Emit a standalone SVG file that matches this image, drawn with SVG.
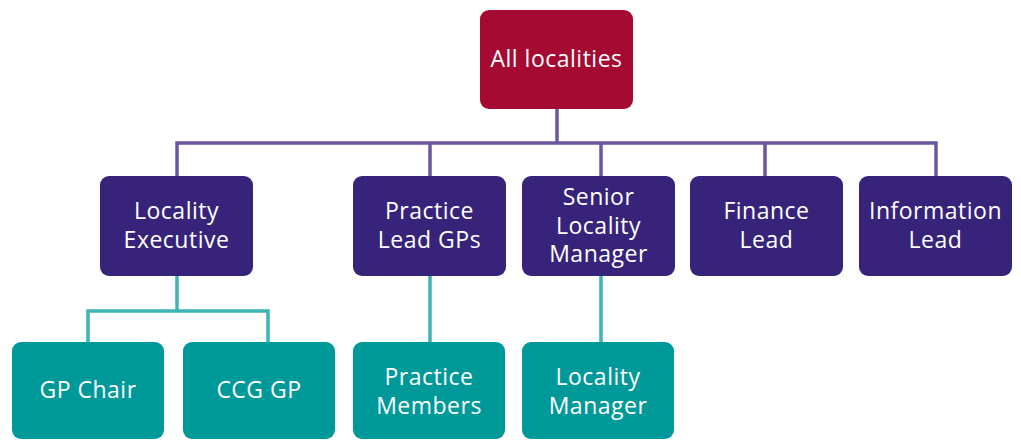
<svg xmlns="http://www.w3.org/2000/svg" width="1021" height="440" viewBox="0 0 1021 440">
<style>
.top{fill:#A50B32}
.mid{fill:#37247A}
.low{fill:#009999}
.t{font-family:"Open Sans","Noto Sans",sans-serif;font-size:23px;letter-spacing:0.5px;fill:#ffffff;text-anchor:middle}
.cp{stroke:#6A57A0;stroke-width:3.5;fill:none}
.ct{stroke:#3DB5B5;stroke-width:3.5;fill:none}
</style>
<rect width="1021" height="440" fill="#ffffff"/>
<g id="connectors">
<path class="cp" d="M557 109V143M177 176V143H936V176M430 143V176M601 143V176M765 143V176"/>
<path class="ct" d="M177 276V311M88 342V311H268V342M430 276V342M601 276V342"/>
</g>
<g id="n-all"><rect class="top" x="480" y="10" width="153" height="99" rx="9"/><text class="t" x="556.5" y="67">All localities</text></g>
<g id="n-locexec"><rect class="mid" x="100" y="176" width="153" height="100" rx="9"/><text class="t" x="176.5" y="219">Locality</text><text class="t" x="176.5" y="248">Executive</text></g>
<g id="n-practicelead"><rect class="mid" x="353" y="176" width="153" height="100" rx="9"/><text class="t" x="429.5" y="219">Practice</text><text class="t" x="429.5" y="248">Lead GPs</text></g>
<g id="n-senior"><rect class="mid" x="522" y="176" width="153" height="100" rx="9"/><text class="t" x="598.5" y="205">Senior</text><text class="t" x="598.5" y="234">Locality</text><text class="t" x="598.5" y="262">Manager</text></g>
<g id="n-finance"><rect class="mid" x="690" y="176" width="153" height="100" rx="9"/><text class="t" x="766.5" y="219">Finance</text><text class="t" x="766.5" y="248">Lead</text></g>
<g id="n-info"><rect class="mid" x="859" y="176" width="153" height="100" rx="9"/><text class="t" x="935.5" y="219">Information</text><text class="t" x="935.5" y="248">Lead</text></g>
<g id="n-gpchair"><rect class="low" x="12" y="342" width="152" height="97" rx="9"/><text class="t" x="88" y="398">GP Chair</text></g>
<g id="n-ccggp"><rect class="low" x="183" y="342" width="152" height="97" rx="9"/><text class="t" x="259" y="398">CCG GP</text></g>
<g id="n-practicemembers"><rect class="low" x="353" y="342" width="152" height="97" rx="9"/><text class="t" x="429" y="385">Practice</text><text class="t" x="429" y="414">Members</text></g>
<g id="n-locmgr"><rect class="low" x="522" y="342" width="152" height="97" rx="9"/><text class="t" x="598" y="385">Locality</text><text class="t" x="598" y="414">Manager</text></g>
</svg>
